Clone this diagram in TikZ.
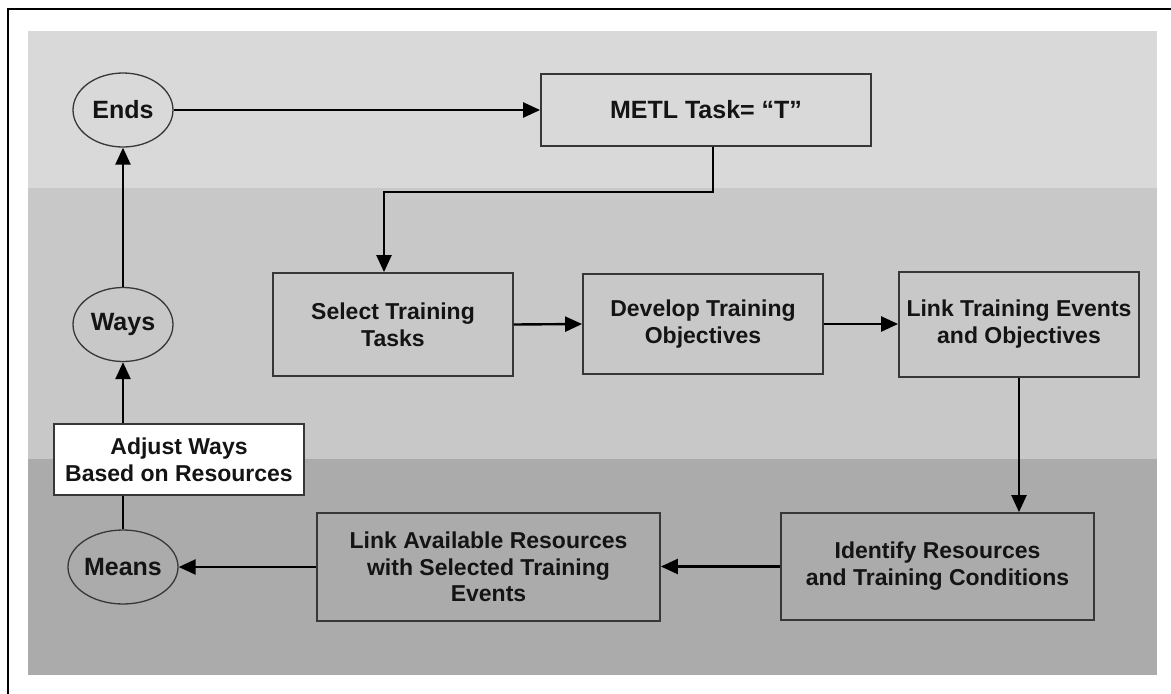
\documentclass[tikz,border=0pt]{standalone}
\usepackage{fontspec}
\setmainfont{Liberation Sans}
\usetikzlibrary{shapes.geometric,arrows.meta}
\definecolor{bandtop}{RGB}{217,217,217}
\definecolor{bandmid}{RGB}{200,200,200}
\definecolor{bandlow}{RGB}{171,171,171}
\definecolor{edgegray}{RGB}{55,55,55}
\tikzset{
  stepbox/.style={draw=edgegray, line width=1.8pt, rectangle, inner sep=0pt,
    align=center, text=black!92,
    font=\bfseries\fontsize{23}{27}\selectfont},
  phase/.style={draw=edgegray, line width=1.3pt, ellipse, inner sep=0pt,
    minimum width=100pt, minimum height=74pt, text=black!92,
    font=\bfseries\fontsize{25}{29}\selectfont},
  link/.style={line width=2.4pt, black},
  arr/.style={link, -{Triangle[length=17pt,width=15pt]}},
}
\begin{document}
\begin{tikzpicture}[x=1pt,y=-1pt]
\useasboundingbox (0,0) rectangle (1171,694);

% frame (left and top edges)
\draw[line width=2.6pt] (8,694) -- (8,9) -- (1171,9);

% shaded background bands
\fill[bandtop] (28,31) rectangle (1157,188);
\fill[bandmid] (28,188) rectangle (1157,459);
\fill[bandlow] (28,459) rectangle (1157,675);

% ends / ways / means
\node[phase] (ends)  at (123,110)   {Ends};
\node[phase] (ways)  at (123,324.5) {Ways};
\node[phase] (means) at (123,567)   {Means};

% process steps
\node[stepbox, fill=white, minimum width=250pt, minimum height=71pt]
  (adjust) at (179,459.5) {Adjust Ways\\Based on Resources};
\node[stepbox, minimum width=330pt, minimum height=72pt,
  font=\bfseries\fontsize{25}{29}\selectfont]
  (metl) at (706,110) {METL Task= “T”};
\node[stepbox, minimum width=240pt, minimum height=103pt]
  (select) at (393,324.5) {Select Training\\Tasks};
\node[stepbox, minimum width=240pt, minimum height=100pt]
  (develop) at (703,324) {Develop Training\\Objectives};
\node[stepbox, minimum width=240pt, minimum height=105pt]
  (linkte) at (1019,324.5) {Link Training Events\\and Objectives};
\node[stepbox, minimum width=313pt, minimum height=107pt]
  (identify) at (937.5,566.5) {Identify Resources\\and Training Conditions};
\node[stepbox, minimum width=343pt, minimum height=108pt,
  font=\bfseries\fontsize{23}{26.5}\selectfont]
  (linkar) at (488.5,567) {Link Available Resources\\with Selected Training\\Events};

% connectors
\draw[arr] (ends.east) -- (metl.west);
\draw[arr] ([xshift=7pt]metl.south) -- ++(0,45) -| ([xshift=-9pt]select.north);
\draw[arr] (select.east) -- (develop.west);
\draw[arr] (develop.east) -- (develop.east -| linkte.west);
\draw[arr] (linkte.south) -- (linkte.south |- identify.north);
\draw[arr] (identify.west) -- (identify.west -| linkar.east);
\draw[arr] (linkar.west) -- (means.east);
\draw[link] (means.north) -- (means.north |- adjust.south);
\draw[arr] (adjust.north -| ways.south) -- (ways.south);
\draw[arr] (ways.north) -- (ends.south);
\end{tikzpicture}
\end{document}
